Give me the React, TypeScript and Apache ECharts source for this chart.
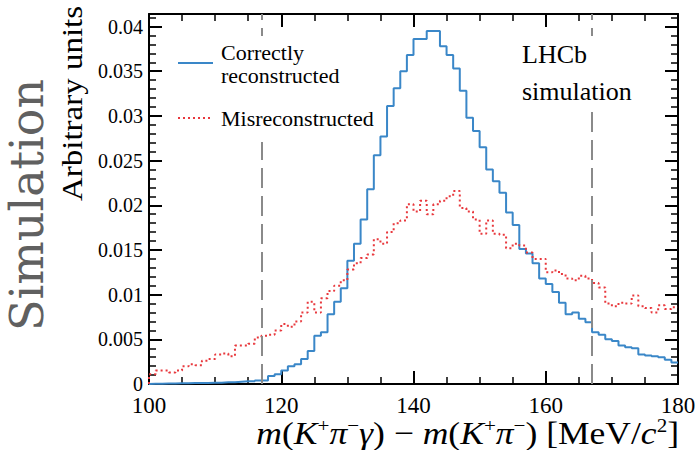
import React, { useEffect, useRef } from "react";
import * as echarts from "echarts";

// Histogram binning (MeV/c^2)
const BIN_LOW = 100;
const BIN_WIDTH = 1;
const xTickValues = [100, 120, 140, 160, 180];
const yTickInterval = 0.005;

// Bin contents 100..179 MeV (80 bins)
const correctlyReconstructed = [
  0.00003, 0.00003, 0.00005, 0.00005, 0.00008, 0.00008, 0.0001, 0.0001, 0.00012, 0.00015,
  0.00015, 0.0002, 0.0002, 0.00025, 0.0003, 0.0003, 0.0004, 0.0004, 0.0009, 0.0011,
  0.0015, 0.002, 0.0022, 0.0028, 0.0037, 0.0054, 0.0058, 0.0078, 0.0092, 0.0107,
  0.0138, 0.0157, 0.0184, 0.0218, 0.0256, 0.0277, 0.0311, 0.0331, 0.035, 0.0368,
  0.0386, 0.0386, 0.0395, 0.0395, 0.0378, 0.0368, 0.0353, 0.0328, 0.0298, 0.0283,
  0.0265, 0.024, 0.0227, 0.0214, 0.0192, 0.0178, 0.0151, 0.0146, 0.0135, 0.0118,
  0.0112, 0.0103, 0.0091, 0.0078, 0.008, 0.0073, 0.0069, 0.0058, 0.0055, 0.005,
  0.0048, 0.0043, 0.0041, 0.004, 0.0033, 0.0032, 0.0031, 0.003, 0.0027, 0.0024,
];

const misreconstructed = [
  0.0011, 0.0015, 0.0015, 0.0013, 0.0015, 0.002, 0.0022, 0.0021, 0.0026, 0.0028,
  0.0033, 0.0034, 0.0031, 0.0043, 0.0043, 0.0045, 0.0052, 0.0054, 0.0055, 0.006,
  0.0067, 0.0064, 0.007, 0.008, 0.0092, 0.008, 0.0096, 0.0104, 0.011, 0.0116,
  0.0128, 0.0135, 0.0141, 0.0145, 0.0162, 0.0157, 0.017, 0.018, 0.0183, 0.0201,
  0.0193, 0.0205, 0.019, 0.0201, 0.0205, 0.021, 0.0216, 0.0197, 0.0193, 0.0184,
  0.0168, 0.0183, 0.0168, 0.0167, 0.0152, 0.0157, 0.0155, 0.0147, 0.014, 0.014,
  0.0125, 0.0127, 0.0123, 0.0118, 0.0116, 0.0121, 0.0118, 0.0113, 0.0108, 0.009,
  0.0087, 0.0091, 0.009, 0.0099, 0.0087, 0.0085, 0.008, 0.0088, 0.0084, 0.0086,
];

// Signal-window cuts (dashed lines)
const cutLines = [117, 167];

const legendLabels = ["Correctly", "reconstructed", "Misreconstructed"];
const experimentLabels = ["LHCb", "simulation"];

const BLUE = "#3a87c8";
const RED = "#e8383d";
const SERIF = "'Liberation Serif', 'Times New Roman', serif";

function toSteps(vals: number[]): number[][] {
  const pts: number[][] = [[BIN_LOW, 0]];
  vals.forEach((v, i) => pts.push([BIN_LOW + i * BIN_WIDTH, v]));
  pts.push([BIN_LOW + vals.length * BIN_WIDTH, vals[vals.length - 1]]);
  return pts;
}

export default function App() {
  const ref = useRef<HTMLDivElement>(null);

  useEffect(() => {
    if (!ref.current) return;
    const chart = echarts.init(ref.current, null, { renderer: "svg" });

    const frameAxis = {
      axisLine: { show: true, onZero: false, lineStyle: { color: "#000", width: 2 } },
      axisTick: { show: true, inside: true, length: 13, lineStyle: { color: "#000", width: 2 } },
      splitLine: { show: false },
    };

    const xAxisBase = {
      type: "value",
      min: xTickValues[0],
      max: xTickValues[xTickValues.length - 1],
      interval: xTickValues[1] - xTickValues[0],
      ...frameAxis,
      minorTick: { show: true, splitNumber: 4, length: 7, lineStyle: { color: "#000", width: 1.5 } },
    };
    const yAxisBase = {
      type: "value",
      min: 0,
      max: 0.0414,
      interval: yTickInterval,
      ...frameAxis,
      minorTick: { show: true, splitNumber: 5, length: 7, lineStyle: { color: "#000", width: 1.5 } },
    };

    const option: any = {
      animation: false,
      backgroundColor: "#fff",
      grid: { left: 149, right: 21, top: 14, bottom: 66, containLabel: false },
      xAxis: [
        {
          ...xAxisBase,
          position: "bottom",
          axisLabel: { show: true, fontFamily: SERIF, fontSize: 23, color: "#000", margin: 10 },
        },
        { ...xAxisBase, position: "top", axisLabel: { show: false } },
      ],
      yAxis: [
        {
          ...yAxisBase,
          position: "left",
          axisLabel: {
            show: true,
            fontFamily: SERIF,
            fontSize: 20,
            lineHeight: 15,
            padding: [0, 0, 4, 0],
            color: "#000",
            margin: 6,
            showMaxLabel: false,
          },
        },
        { ...yAxisBase, position: "right", axisLabel: { show: false } },
      ],
      series: [
        {
          name: "Correctly reconstructed",
          type: "line",
          step: "end",
          xAxisIndex: 0,
          yAxisIndex: 0,
          showSymbol: false,
          symbol: "none",
          data: toSteps(correctlyReconstructed),
          lineStyle: { color: BLUE, width: 2 },
          z: 3,
          markLine: {
            silent: true,
            symbol: ["none", "none"],
            label: { show: false },
            lineStyle: { color: "#8a8a8a", width: 2, type: [20, 8] },
            data: cutLines.map((v) => ({ xAxis: v })),
          },
        },
        {
          name: "Misreconstructed",
          type: "line",
          step: "end",
          xAxisIndex: 0,
          yAxisIndex: 0,
          showSymbol: false,
          symbol: "none",
          data: toSteps(misreconstructed),
          lineStyle: { color: RED, width: 2, type: [2, 3] },
          z: 4,
        },
      ],
      graphic: [
        // legend box
        { type: "rect", z: 50, shape: { x: 168, y: 36, width: 210, height: 106 }, style: { fill: "#fff" } },
        { type: "line", z: 51, shape: { x1: 178, y1: 63, x2: 213, y2: 63 }, style: { stroke: BLUE, lineWidth: 2 } },
        {
          type: "line",
          z: 51,
          shape: { x1: 178, y1: 118, x2: 213, y2: 118 },
          style: { stroke: RED, lineWidth: 2, lineDash: [2, 3] },
        },
        {
          type: "text",
          z: 51,
          x: 221,
          y: 52.5,
          style: { text: legendLabels[0], font: `22px ${SERIF}`, fill: "#000", textAlign: "left", textVerticalAlign: "middle" },
        },
        {
          type: "text",
          z: 51,
          x: 221,
          y: 75.5,
          style: { text: legendLabels[1], font: `22px ${SERIF}`, fill: "#000", textAlign: "left", textVerticalAlign: "middle" },
        },
        {
          type: "text",
          z: 51,
          x: 221,
          y: 118.5,
          style: { text: legendLabels[2], font: `22px ${SERIF}`, fill: "#000", textAlign: "left", textVerticalAlign: "middle" },
        },
        // LHCb label box
        { type: "rect", z: 50, shape: { x: 515, y: 36, width: 135, height: 68 }, style: { fill: "#fff" } },
        {
          type: "text",
          z: 51,
          x: 522,
          y: 54,
          style: { text: experimentLabels[0], font: `26px ${SERIF}`, fill: "#000", textAlign: "left", textVerticalAlign: "middle" },
        },
        {
          type: "text",
          z: 51,
          x: 522,
          y: 91,
          style: { text: experimentLabels[1], font: `26px ${SERIF}`, fill: "#000", textAlign: "left", textVerticalAlign: "middle" },
        },
        // y-axis title
        {
          type: "text",
          z: 51,
          x: 87,
          y: 201,
          rotation: Math.PI / 2,
          scaleX: 1.1,
          style: {
            text: "Arbitrary units",
            font: `30px ${SERIF}`,
            fill: "#000",
            textAlign: "left",
            textVerticalAlign: "bottom",
          },
        },
        // watermark
        {
          type: "text",
          z: 51,
          x: 50,
          y: 331,
          rotation: Math.PI / 2,
          style: {
            text: "Simulation",
            font: `46px 'DejaVu Serif', serif`,
            fill: "#606060",
            textAlign: "left",
            textVerticalAlign: "bottom",
          },
        },
        // x-axis title
        {
          type: "text",
          z: 51,
          x: 679,
          y: 433,
          scaleX: 1.11,
          style: {
            text:
              "{i|m}{n|(}{i|K}{s|+}{i|π}{s|−}{i|γ}{n|) − }{i|m}{n|(}{i|K}{s|+}{i|π}{s|−}{n|) [MeV/}{i|c}{s|2}{n|]}",
            textAlign: "right",
            textVerticalAlign: "middle",
            rich: {
              i: { fontFamily: SERIF, fontStyle: "italic", fontSize: 32, fill: "#000", lineHeight: 34 },
              n: { fontFamily: SERIF, fontSize: 32, fill: "#000", lineHeight: 34 },
              s: { fontFamily: SERIF, fontSize: 19, fill: "#000", lineHeight: 34, verticalAlign: "top" },
            },
          },
        },
      ],
    };

    chart.setOption(option);
    return () => chart.dispose();
  }, []);

  return (
    <div
      ref={ref}
      style={{ position: "fixed", left: 0, top: 0, width: 699, height: 450, background: "#fff" }}
    />
  );
}
